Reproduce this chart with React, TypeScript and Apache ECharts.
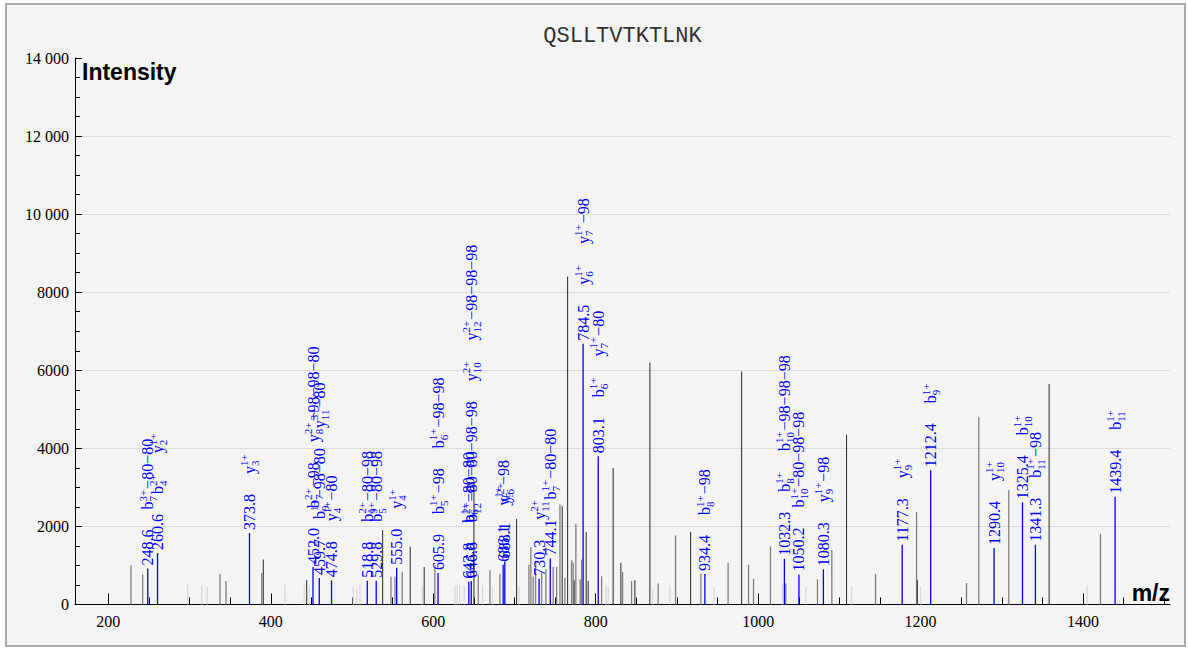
import React, { useEffect, useRef } from 'react';
import * as echarts from 'echarts';

// ---------- data ----------
const chartTitle = 'QSLLTVTKTLNK';
const xAxisName = 'm/z';
const yAxisName = 'Intensity';
const xLabelValues = [200, 400, 600, 800, 1000, 1200, 1400];
const xMinorTickValues = [200, 250, 300, 350, 400, 450, 500, 550, 600, 650, 700, 750, 800, 850, 900, 950, 1000, 1050, 1100, 1150, 1200, 1250, 1300, 1350, 1400, 1450, 1500];
const xMin = 159;
const xMax = 1507;
const yMax = 14000;
const yInterval = 2000;

// annotated (blue) peaks
const annotatedMz = [248.6, 260.6, 373.8, 452.0, 459.7, 474.8, 518.8, 529.8, 555.0, 605.9, 643.8, 646.8, 686.1, 688.1, 730.3, 744.1, 784.5, 803.1, 934.4, 1032.3, 1050.2, 1080.3, 1177.3, 1212.4, 1290.4, 1325.4, 1341.3, 1439.4];
const annotatedIntensity = [920, 1320, 1830, 960, 680, 620, 610, 610, 940, 810, 580, 600, 1020, 1100, 660, 1180, 6680, 3800, 780, 1170, 770, 900, 1530, 3440, 1450, 2620, 1530, 2760];
const annotatedIons: string[][] = [
  ['b_{7}^{3+}−80−80'],
  ['b_{4}^{2+}', 'y_{2}^{1+}'],
  ['y_{3}^{1+}'],
  ['b_{7}^{2+}−98', 'y_{8}^{2+}−98−98−80'],
  ['b_{9}^{1+}−98−80', 'y_{11}^{3+}−80'],
  ['y_{4}^{1+}−80'],
  ['b_{9}^{2+}−80−98'],
  ['b_{5}^{1+}−80−98'],
  ['y_{4}^{1+}'],
  ['b_{5}^{1+}−98', 'b_{6}^{1+}−98−98'],
  ['b_{6}^{1+}−80−80'],
  ['b_{12}^{2+}−80−80−98−98', 'y_{10}^{2+}', 'y_{12}^{2+}−98−98−98'],
  ['y_{5}^{1+}−98'],
  ['y_{6}^{2+}'],
  ['y_{11}^{2+}'],
  ['b_{7}^{1+}−80−80'],
  ['y_{6}^{1+}', 'y_{7}^{1+}−98'],
  ['b_{6}^{1+}', 'y_{7}^{1+}−80'],
  ['b_{8}^{1+}−98'],
  ['b_{8}^{1+}', 'b_{10}^{1+}−98−98−98'],
  ['b_{10}^{1+}−80−98−98'],
  ['y_{9}^{1+}−98'],
  ['y_{9}^{1+}'],
  ['b_{9}^{1+}'],
  ['y_{10}^{1+}'],
  ['b_{10}^{1+}'],
  ['b_{11}^{1+}−98'],
  ['b_{11}^{1+}'],
];

// unannotated peaks, dark
const darkMz = [390.8, 444.2, 537.7, 571.7, 588.9, 650.1, 702.6, 758.8, 765.4, 773.5, 788.3, 790.8, 821.5, 831.0, 848.2, 866.7, 916.8, 979.6, 1108.8, 1196.0, 1358.2];
const darkIntensity = [1150, 620, 1900, 1480, 960, 3110, 2190, 2520, 8400, 620, 1850, 600, 3500, 1070, 620, 6200, 1860, 5970, 4350, 620, 5650];
// unannotated peaks, mid grey
const grayMz = [227.9, 242.3, 337.5, 344.9, 388.8, 548.0, 552.9, 561.8, 602.0, 655.4, 669.8, 682.1, 717.8, 720.2, 723.0, 726.0, 733.4, 738.7, 747.7, 751.9, 756.0, 762.0, 770.3, 772.3, 775.6, 780.9, 782.6, 807.3, 833.1, 844.2, 876.9, 898.3, 929.5, 963.0, 988.2, 994.3, 1015.2, 1034.0, 1073.0, 1090.7, 1144.5, 1195.0, 1256.5, 1271.6, 1308.5, 1421.4];
const grayIntensity = [1000, 770, 790, 600, 810, 710, 720, 840, 1000, 770, 880, 790, 1020, 1470, 720, 1110, 810, 900, 960, 960, 2560, 680, 1130, 1070, 2070, 640, 1150, 720, 830, 600, 540, 1770, 790, 1070, 1020, 660, 1490, 540, 640, 1390, 780, 2370, 550, 4800, 2930, 1810];
// unannotated peaks, light
const lightMz = [297.7, 315.0, 321.8, 417.5, 441.2, 447.4, 501.5, 505.7, 509.8, 586.5, 627.0, 629.5, 632.5, 638.2, 660.8, 673.1, 705.5, 812.6, 815.4, 870.0, 891.3, 945.8, 1030.0, 1058.7, 1115.0, 1200.0, 1405.0];
const lightIntensity = [510, 490, 450, 510, 510, 440, 440, 400, 510, 490, 490, 490, 490, 470, 490, 460, 470, 490, 440, 390, 490, 460, 510, 470, 460, 470, 490];

// ---------- styles ----------
const BLUE = '#0000ff';
const SERIF = 'Liberation Serif';
const LABEL_FONT = '16px ' + SERIF;
const SMALL_FONT = '11px ' + SERIF;
const LABEL_GAP = 20;
const LABEL_START = 3;

let measureCtx: CanvasRenderingContext2D | null = null;
function measure(text: string, font: string): number {
  if (!measureCtx) measureCtx = document.createElement('canvas').getContext('2d');
  if (!measureCtx) return text.length * 8;
  measureCtx.font = font;
  return measureCtx.measureText(text).width;
}

function parseIon(s: string) {
  const m = s.match(/^([a-z])_\{(\w+)\}\^\{([\d+]+)\}(.*)$/);
  if (!m) return { base: s, sub: '', sup: '', suffix: '' };
  return { base: m[1], sub: m[2], sup: m[3], suffix: m[4] };
}

function peakSeries(name: string, mz: number[], inten: number[], color: string, width: number, z: number) {
  return {
    type: 'custom',
    name,
    silent: true,
    clip: false,
    z,
    data: mz.map((m, i) => [m, inten[i]]),
    renderItem: (params: any, api: any) => {
      const p0 = api.coord([api.value(0), 0]);
      const p1 = api.coord([api.value(0), api.value(1)]);
      return {
        type: 'line',
        shape: { x1: p0[0], y1: p0[1], x2: p1[0], y2: p1[1] },
        style: { stroke: color, lineWidth: width },
      };
    },
  };
}

function annotatedSeries() {
  return {
    type: 'custom',
    name: 'annotated',
    silent: true,
    clip: false,
    z: 10,
    data: annotatedMz.map((m, i) => [m, annotatedIntensity[i], i]),
    renderItem: (params: any, api: any) => {
      const mz = api.value(0);
      const idx = api.value(2);
      const p0 = api.coord([mz, 0]);
      const p1 = api.coord([mz, api.value(1)]);
      const children: any[] = [];
      let cx = 0;
      const mzText = annotatedMz[idx].toFixed(1);
      children.push({
        type: 'text', x: cx, y: 0,
        style: { text: mzText, font: LABEL_FONT, fill: BLUE, align: 'left', verticalAlign: 'middle' },
      });
      cx += measure(mzText, LABEL_FONT) + LABEL_GAP;
      for (const ionStr of annotatedIons[idx]) {
        const ion = parseIon(ionStr);
        children.push({
          type: 'text', x: cx, y: 0,
          style: { text: ion.base, font: LABEL_FONT, fill: BLUE, align: 'left', verticalAlign: 'middle' },
        });
        cx += measure(ion.base, LABEL_FONT);
        if (ion.sup || ion.sub) {
          children.push({
            type: 'text', x: cx, y: -5,
            style: { text: ion.sup, font: SMALL_FONT, fill: BLUE, align: 'left', verticalAlign: 'middle' },
          });
          children.push({
            type: 'text', x: cx, y: 5.5,
            style: { text: ion.sub, font: SMALL_FONT, fill: BLUE, align: 'left', verticalAlign: 'middle' },
          });
          cx += Math.max(measure(ion.sup, SMALL_FONT), measure(ion.sub, SMALL_FONT)) + 1;
        }
        if (ion.suffix) {
          children.push({
            type: 'text', x: cx, y: 0,
            style: { text: ion.suffix, font: LABEL_FONT, fill: BLUE, align: 'left', verticalAlign: 'middle' },
          });
          cx += measure(ion.suffix, LABEL_FONT);
        }
        cx += LABEL_GAP;
      }
      return {
        type: 'group',
        children: [
          {
            type: 'line',
            shape: { x1: p0[0], y1: p0[1], x2: p1[0], y2: p1[1] },
            style: { stroke: BLUE, lineWidth: 1.3 },
          },
          {
            type: 'group',
            x: p1[0],
            y: p1[1] - LABEL_START,
            rotation: Math.PI / 2,
            children,
          },
        ],
      };
    },
  };
}

function formatY(v: number): string {
  const s = String(v);
  if (v >= 10000) return s.slice(0, s.length - 3) + ' ' + s.slice(s.length - 3);
  return s;
}

const App: React.FC = () => {
  const ref = useRef<HTMLDivElement>(null);

  useEffect(() => {
    document.body.style.margin = '0';
    if (!ref.current) return;
    const chart = echarts.init(ref.current, undefined, { renderer: 'svg' });
    const axisFont = { fontFamily: SERIF, fontSize: 16, color: '#000' };
    chart.setOption({
      animation: false,
      backgroundColor: 'transparent',
      grid: { left: 75, right: 18, top: 58, bottom: 43.5, containLabel: false },
      xAxis: [
        {
          type: 'value', min: xMin, max: xMax, position: 'bottom',
          axisLine: { show: true, lineStyle: { color: '#000', width: 1 } },
          axisTick: { show: true, inside: true, length: 11, customValues: xLabelValues, lineStyle: { color: '#000' } },
          axisLabel: { show: true, customValues: xLabelValues, margin: 9, formatter: (v: number) => String(v), ...axisFont },
          splitLine: { show: false },
        },
        {
          type: 'value', min: xMin, max: xMax, position: 'bottom',
          axisLine: { show: false },
          axisTick: { show: true, inside: true, length: 7, customValues: xMinorTickValues, lineStyle: { color: '#000' } },
          axisLabel: { show: false },
          splitLine: { show: false },
        },
      ],
      yAxis: {
        type: 'value', min: 0, max: yMax, interval: yInterval,
        axisLine: { show: true, lineStyle: { color: '#000', width: 1 } },
        axisTick: { show: true, inside: true, length: 7, lineStyle: { color: '#000' } },
        minorTick: { show: true, splitNumber: 4, length: 5, lineStyle: { color: '#000' } },
        axisLabel: { show: true, margin: 6, formatter: formatY, ...axisFont },
        splitLine: { show: true, showMinLine: false, showMaxLine: false, lineStyle: { color: '#dcdcdc', width: 1 } },
      },
      graphic: [
        {
          type: 'text', x: 622.5, y: 36,
          style: { text: chartTitle, font: '22px Liberation Mono', fill: '#333', align: 'center', verticalAlign: 'middle' },
        },
        {
          type: 'text', x: 82, y: 72,
          style: { text: yAxisName, font: 'bold 23px Liberation Sans', fill: '#000', align: 'left', verticalAlign: 'middle' },
        },
        {
          type: 'text', x: 1170, y: 593,
          style: { text: xAxisName, font: 'bold 23px Liberation Sans', fill: '#000', align: 'right', verticalAlign: 'middle' },
        },
      ],
      series: [
        peakSeries('light', lightMz, lightIntensity, '#d9d9d9', 1.3, 3),
        peakSeries('gray', grayMz, grayIntensity, '#808080', 1.3, 4),
        peakSeries('dark', darkMz, darkIntensity, '#3a3a3a', 1.1, 5),
        annotatedSeries(),
      ],
    });
    return () => chart.dispose();
  }, []);

  return (
    <div style={{ position: 'relative', width: 1188, height: 648, background: '#fff' }}>
      <div style={{ position: 'absolute', left: 5, top: 3, width: 1177, height: 640, border: '2px solid #aaaaaa', background: '#f4f4f4' }} />
      <div ref={ref} style={{ position: 'absolute', left: 0, top: 0, width: 1188, height: 648 }} />
    </div>
  );
};

export default App;
